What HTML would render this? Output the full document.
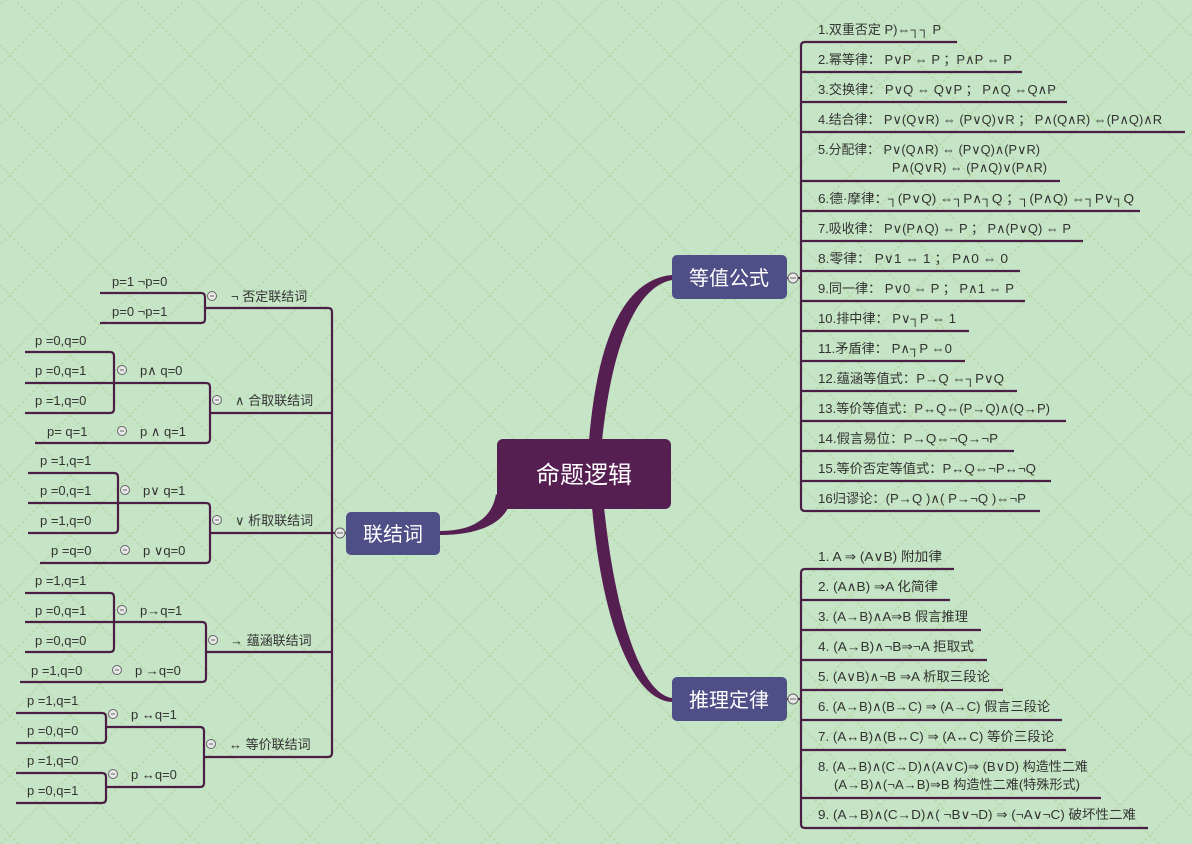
<!DOCTYPE html>
<html><head><meta charset="utf-8"><style>
html,body{margin:0;padding:0;width:1192px;height:844px;overflow:hidden;background:#c6e4c6}
svg{display:block}
text{font-family:"Liberation Sans","DejaVu Sans","Noto Sans CJK SC",sans-serif;font-size:13px;fill:#333}
</style></head><body>
<svg width="1192" height="844" viewBox="0 0 1192 844" xmlns="http://www.w3.org/2000/svg">
<defs>
<pattern id="bg" width="60" height="60" patternUnits="userSpaceOnUse" x="10" y="-5">
<path d="M0,0 L60,60 M60,0 L0,60" stroke="#b5d8a4" stroke-width="1.3" stroke-dasharray="3,2" fill="none"/>
</pattern>
</defs>
<rect width="1192" height="844" fill="#c6e4c6"/>
<rect width="1192" height="844" fill="url(#bg)"/>

<g fill="#561f52">
<path d="M589,441 C598,330 628,279 672,275 L672,280 C640,286 613,335 602,441 Z"/>
<path d="M592,507 C602,620 632,700 672,702 L672,698 C642,694 616,620 604,507 Z"/>
<path d="M496,494 C492,520 470,531 440,531 L440,535 C478,535 500,524 508,508 Z"/>
</g>

<rect x="497" y="439" width="174" height="70" rx="6" fill="#561f52"/>
<text x="584" y="483" text-anchor="middle" style="font-size:24px;fill:#fff">命题逻辑</text>
<rect x="672" y="255" width="115" height="44" rx="5" fill="#4f4f87"/>
<text x="729" y="285" text-anchor="middle" style="font-size:20px;fill:#fff">等值公式</text>
<rect x="672" y="677" width="115" height="44" rx="5" fill="#4f4f87"/>
<text x="729" y="707" text-anchor="middle" style="font-size:20px;fill:#fff">推理定律</text>
<rect x="346" y="512" width="94" height="43" rx="5" fill="#4f4f87"/>
<text x="393" y="541" text-anchor="middle" style="font-size:20px;fill:#fff">联结词</text>

<g stroke="#4a1e45" stroke-width="2.2" fill="none">
<path d="M787,278 H801"/>
<path d="M957,42 H805 Q801,42 801,46 V507 Q801,511 805,511 H1040"/>
<path d="M801,72 H1022 M801,102 H1067 M801,132 H1185 M801,181 H1060 M801,211 H1140 M801,241 H1083 M801,271 H1020 M801,301 H1025 M801,331 H969 M801,361 H965 M801,391 H1017 M801,421 H1066 M801,451 H1014 M801,481 H1051"/>
<path d="M787,699 H801"/>
<path d="M954,569 H805 Q801,569 801,573 V824 Q801,828 805,828 H1148"/>
<path d="M801,600 H950 M801,630 H981 M801,660 H987 M801,690 H1003 M801,720 H1062 M801,750 H1066 M801,798 H1101"/>
<path d="M205,308 H328 Q332,308 332,312 V753 Q332,757 328,757 H204"/>
<path d="M210,413 H332 M210,533 H346 M206,652 H332"/>
<path d="M100,293 H201 Q205,293 205,297 V319 Q205,323 201,323 H100"/>
<path d="M25,352 H110 Q114,352 114,356 V409 Q114,413 110,413 H25"/>
<path d="M25,383 H206 Q210,383 210,387 V439 Q210,443 206,443 H35"/>
<path d="M28,473 H114 Q118,473 118,477 V529 Q118,533 114,533 H28"/>
<path d="M28,503 H206 Q210,503 210,507 V559 Q210,563 206,563 H40"/>
<path d="M25,593 H110 Q114,593 114,597 V648 Q114,652 110,652 H25"/>
<path d="M25,622 H202 Q206,622 206,626 V678 Q206,682 202,682 H20"/>
<path d="M16,713 H102 Q106,713 106,717 V739 Q106,743 102,743 H16"/>
<path d="M16,773 H102 Q106,773 106,777 V799 Q106,803 102,803 H16"/>
<path d="M106,727 H200 Q204,727 204,731 V783 Q204,787 200,787 H106"/>
</g>

<g fill="#e8e8e8" stroke="#666" stroke-width="1">
<circle cx="793" cy="278" r="5"/><circle cx="793" cy="699" r="5"/><circle cx="340" cy="533" r="5"/>
<circle cx="212" cy="296" r="4.5"/><circle cx="122" cy="370" r="4.5"/><circle cx="217" cy="400" r="4.5"/><circle cx="122" cy="431" r="4.5"/>
<circle cx="125" cy="490" r="4.5"/><circle cx="217" cy="520" r="4.5"/><circle cx="125" cy="550" r="4.5"/>
<circle cx="122" cy="610" r="4.5"/><circle cx="213" cy="640" r="4.5"/><circle cx="117" cy="670" r="4.5"/>
<circle cx="113" cy="714" r="4.5"/><circle cx="211" cy="744" r="4.5"/><circle cx="113" cy="774" r="4.5"/>
</g>
<g stroke="#666" stroke-width="1">
<path d="M790,278h6M790,699h6M337,533h6M210,296h4M120,370h4M215,400h4M120,431h4M123,490h4M215,520h4M123,550h4M120,610h4M211,640h4M115,670h4M111,714h4M209,744h4M111,774h4"/>
</g>

<g>
<text x="818" y="34">1.双重否定  P)⇔┐┐ P</text>
<text x="818" y="64" textLength="194" lengthAdjust="spacingAndGlyphs">2.幂等律：  P∨P ⇔ P  ；P∧P ⇔ P</text>
<text x="818" y="94" textLength="238" lengthAdjust="spacingAndGlyphs">3.交换律：  P∨Q ⇔ Q∨P  ；  P∧Q ⇔Q∧P</text>
<text x="818" y="124" textLength="344" lengthAdjust="spacingAndGlyphs">4.结合律：  P∨(Q∨R) ⇔ (P∨Q)∨R  ；  P∧(Q∧R) ⇔(P∧Q)∧R</text>
<text x="818" y="154" textLength="222" lengthAdjust="spacingAndGlyphs">5.分配律：  P∨(Q∧R) ⇔ (P∨Q)∧(P∨R)</text>
<text x="892" y="172" textLength="155" lengthAdjust="spacingAndGlyphs">P∧(Q∨R) ⇔ (P∧Q)∨(P∧R)</text>
<text x="818" y="203" textLength="316" lengthAdjust="spacingAndGlyphs">6.德·摩律：┐(P∨Q) ⇔┐P∧┐Q  ；┐(P∧Q) ⇔┐P∨┐Q</text>
<text x="818" y="233" textLength="253" lengthAdjust="spacingAndGlyphs">7.吸收律：  P∨(P∧Q) ⇔ P  ；  P∧(P∨Q) ⇔ P</text>
<text x="818" y="263" textLength="190" lengthAdjust="spacingAndGlyphs">8.零律：    P∨1 ⇔ 1  ；  P∧0 ⇔ 0</text>
<text x="818" y="293" textLength="196" lengthAdjust="spacingAndGlyphs">9.同一律：  P∨0 ⇔ P  ；  P∧1 ⇔ P</text>
<text x="818" y="323" textLength="138" lengthAdjust="spacingAndGlyphs">10.排中律：  P∨┐P ⇔ 1</text>
<text x="818" y="353" textLength="134" lengthAdjust="spacingAndGlyphs">11.矛盾律：  P∧┐P ⇔0</text>
<text x="818" y="383" textLength="186" lengthAdjust="spacingAndGlyphs">12.蕴涵等值式：P→Q ⇔┐P∨Q</text>
<text x="818" y="413" textLength="232" lengthAdjust="spacingAndGlyphs">13.等价等值式：P↔Q⇔(P→Q)∧(Q→P)</text>
<text x="818" y="443" textLength="180" lengthAdjust="spacingAndGlyphs">14.假言易位：P→Q⇔¬Q→¬P</text>
<text x="818" y="473" textLength="218" lengthAdjust="spacingAndGlyphs">15.等价否定等值式：P↔Q⇔¬P↔¬Q</text>
<text x="818" y="503" textLength="208" lengthAdjust="spacingAndGlyphs">16归谬论：(P→Q )∧( P→¬Q )⇔¬P</text>
</g>
<g>
<text x="818" y="561" textLength="124" lengthAdjust="spacingAndGlyphs">1. A ⇒ (A∨B)  附加律</text>
<text x="818" y="591" textLength="120" lengthAdjust="spacingAndGlyphs">2. (A∧B) ⇒A  化简律</text>
<text x="818" y="621" textLength="150" lengthAdjust="spacingAndGlyphs">3. (A→B)∧A⇒B  假言推理</text>
<text x="818" y="651" textLength="156" lengthAdjust="spacingAndGlyphs">4. (A→B)∧¬B⇒¬A  拒取式</text>
<text x="818" y="681" textLength="172" lengthAdjust="spacingAndGlyphs">5. (A∨B)∧¬B ⇒A  析取三段论</text>
<text x="818" y="711" textLength="232" lengthAdjust="spacingAndGlyphs">6. (A→B)∧(B→C) ⇒ (A→C)  假言三段论</text>
<text x="818" y="741" textLength="236" lengthAdjust="spacingAndGlyphs">7. (A↔B)∧(B↔C) ⇒ (A↔C)  等价三段论</text>
<text x="818" y="771" textLength="270" lengthAdjust="spacingAndGlyphs">8.  (A→B)∧(C→D)∧(A∨C)⇒ (B∨D)  构造性二难</text>
<text x="834" y="789" textLength="246" lengthAdjust="spacingAndGlyphs">(A→B)∧(¬A→B)⇒B  构造性二难(特殊形式)</text>
<text x="818" y="819" textLength="318" lengthAdjust="spacingAndGlyphs">9. (A→B)∧(C→D)∧( ¬B∨¬D) ⇒ (¬A∨¬C)  破坏性二难</text>
</g>
<g>
<text x="112" y="286">p=1    ¬p=0</text>
<text x="112" y="316">p=0    ¬p=1</text>
<text x="231" y="301">¬   否定联结词</text>
<text x="35" y="345">p =0,q=0</text>
<text x="35" y="375">p =0,q=1</text>
<text x="35" y="405">p =1,q=0</text>
<text x="140" y="375">p∧  q=0</text>
<text x="235" y="405">∧ 合取联结词</text>
<text x="47" y="436">p= q=1</text>
<text x="140" y="436">p ∧ q=1</text>
<text x="40" y="465">p =1,q=1</text>
<text x="40" y="495">p =0,q=1</text>
<text x="40" y="525">p =1,q=0</text>
<text x="143" y="495">p∨ q=1</text>
<text x="235" y="525">∨ 析取联结词</text>
<text x="51" y="555">p =q=0</text>
<text x="143" y="555">p ∨q=0</text>
<text x="35" y="585">p =1,q=1</text>
<text x="35" y="615">p =0,q=1</text>
<text x="35" y="645">p =0,q=0</text>
<text x="140" y="615">p→q=1</text>
<text x="230" y="645">→ 蕴涵联结词</text>
<text x="31" y="675">p =1,q=0</text>
<text x="135" y="675">p →q=0</text>
<text x="27" y="705">p =1,q=1</text>
<text x="27" y="735">p =0,q=0</text>
<text x="131" y="719">p ↔q=1</text>
<text x="229" y="749">↔ 等价联结词</text>
<text x="27" y="765">p =1,q=0</text>
<text x="27" y="795">p =0,q=1</text>
<text x="131" y="779">p ↔q=0</text>
</g>
</svg>
</body></html>
